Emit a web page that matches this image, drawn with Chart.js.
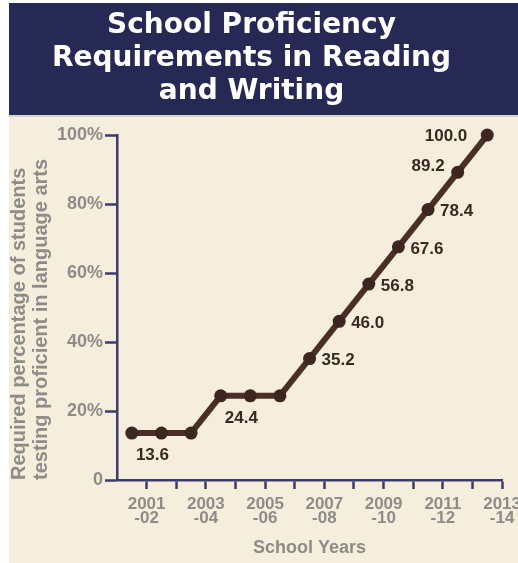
<!DOCTYPE html>
<html>
<head>
<meta charset="utf-8">
<title>School Proficiency Requirements in Reading and Writing</title>
<script src="https://cdn.jsdelivr.net/npm/chart.js@4.4.1/dist/chart.umd.min.js"></script>
<style>
  html, body { margin: 0; padding: 0; background: #fff; overflow: hidden; }
  #wrap { width: 530px; height: 563px; }
</style>
</head>
<body>
<div id="wrap"><canvas id="myChart" width="530" height="563"></canvas></div>
<script>
'use strict';

// one point per school year
let schoolYears = ['2001-02', '2002-03', '2003-04', '2004-05', '2005-06', '2006-07', '2007-08',
  '2008-09', '2009-10', '2010-11', '2011-12', '2012-13', '2013-14'];
let requiredPercent = [13.6, 13.6, 13.6, 24.4, 24.4, 24.4, 35.2, 46.0, 56.8, 67.6, 78.4, 89.2, 100.0];

// labels under the x axis (every other tick)
let xTickLabels = [['2001', '-02'], ['2003', '-04'], ['2005', '-06'], ['2007', '-08'],
  ['2009', '-10'], ['2011', '-12'], ['2013', '-14']];
let yTickValues = [0, 20, 40, 60, 80, 100];

let titleLines = ['School Proficiency', 'Requirements in Reading', 'and Writing'];
let yTitleLines = ['Required percentage of students', 'testing proficient in language arts'];
let xTitle = 'School Years';

// which points get a value label, and on which side
let labelSides = ['', 'below', '', '', 'below', '', 'right', 'right', 'right', 'right', 'right', 'upleft', 'left'];

const navy = '#3b3a6c';
const grey = '#8e8c88';
const brown = '#4a2f27';
const labelFont = '"Liberation Sans", Arial, sans-serif';

// paints the navy header and the beige panel
const backdrop = {
  id: 'backdrop',
  beforeDraw(chart) {
    let ctx = chart.ctx;
    let w = chart.width;
    let h = chart.height;
    ctx.save();
    ctx.fillStyle = '#ffffff';
    ctx.fillRect(0, 0, w, h);
    ctx.fillStyle = '#262954';
    ctx.fillRect(9, 3, w - 9, 112);
    ctx.fillStyle = '#d9d5cc';
    ctx.fillRect(9, 115, w - 9, 2);
    ctx.fillStyle = '#f5eedc';
    ctx.fillRect(9, 117, w - 9, h - 117);
    ctx.restore();
  }
};

// value labels next to the points
const pointLabels = {
  id: 'pointLabels',
  afterDatasetsDraw(chart) {
    let ctx = chart.ctx;
    let meta = chart.getDatasetMeta(0);
    ctx.save();
    ctx.font = 'bold 17px ' + labelFont;
    ctx.fillStyle = '#3a2821';
    ctx.textBaseline = 'middle';
    for (let i = 0; i < meta.data.length; i++) {
      let side = labelSides[i];
      if (!side) continue;
      let pt = meta.data[i];
      let text = requiredPercent[i].toFixed(1);
      if (side === 'below') {
        ctx.textAlign = 'center';
        ctx.fillText(text, pt.x - 9, pt.y + 22);
      } else if (side === 'right') {
        ctx.textAlign = 'left';
        ctx.fillText(text, pt.x + 12, pt.y + 2);
      } else if (side === 'upleft') {
        ctx.textAlign = 'right';
        ctx.fillText(text, pt.x - 13, pt.y - 6);
      } else {
        ctx.textAlign = 'right';
        ctx.fillText(text, pt.x - 20, pt.y + 1);
      }
    }
    ctx.restore();
  }
};

const ctx = document.getElementById('myChart');

new Chart(ctx, {
  type: 'line',
  data: {
    datasets: [
      {
        label: 'Required percentage',
        data: requiredPercent.map((v, i) => ({ x: i, y: v })),
        borderColor: brown,
        borderWidth: 6,
        backgroundColor: '#3d2620',
        pointBackgroundColor: '#3d2620',
        pointBorderWidth: 0,
        pointRadius: 6.5,
        tension: 0,
        clip: false,
      },
    ],
  },
  options: {
    responsive: false,
    animation: false,
    layout: { padding: { left: 0, right: 27, top: 0, bottom: 0 } },
    plugins: {
      legend: { display: false },
      tooltip: { enabled: false },
      title: {
        display: true,
        text: titleLines,
        color: '#ffffff',
        font: { family: '"DejaVu Sans", sans-serif', size: 28, weight: 'bold', lineHeight: 1.18 },
        padding: { top: 9.5, bottom: 26.5 },
      },
    },
    scales: {
      x: {
        type: 'linear',
        min: -0.5,
        max: schoolYears.length - 0.5,
        afterBuildTicks: (scale) => {
          scale.ticks = schoolYears.map((y, i) => ({ value: i + 0.5 }));
        },
        afterFit: (scale) => { scale.height = 83; },
        border: { color: navy, width: 2.5 },
        grid: { drawOnChartArea: false, drawTicks: true, tickLength: 9, tickWidth: 2.5, tickColor: navy },
        ticks: {
          autoSkip: false,
          maxRotation: 0,
          padding: 9,
          color: grey,
          font: { family: labelFont, size: 17, weight: 'bold', lineHeight: 0.8 },
          callback: (value, index) => (index % 2 === 0 ? xTickLabels[index / 2] : ''),
        },
        title: {
          display: true,
          text: xTitle,
          color: grey,
          font: { family: labelFont, size: 18, weight: 'bold' },
          padding: { top: 0, bottom: 4 },
        },
      },
      y: {
        min: 0,
        max: 100,
        afterBuildTicks: (scale) => {
          scale.ticks = yTickValues.map((v) => ({ value: v }));
        },
        afterFit: (scale) => { scale.width = 117; },
        border: { color: navy, width: 2.5 },
        grid: { drawOnChartArea: false, drawTicks: true, tickLength: 12, tickWidth: 2.5, tickColor: navy },
        ticks: {
          padding: 2,
          color: grey,
          font: { family: labelFont, size: 18, weight: 'bold' },
          callback: (value) => (value === 0 ? '0' : value + '%'),
        },
        title: {
          display: true,
          text: yTitleLines,
          align: 'start',
          color: grey,
          font: { family: labelFont, size: 20, weight: 'bold', lineHeight: 1.1 },
          padding: { top: 8, bottom: 0 },
        },
      },
    },
  },
  plugins: [backdrop, pointLabels],
});
</script>
</body>
</html>
